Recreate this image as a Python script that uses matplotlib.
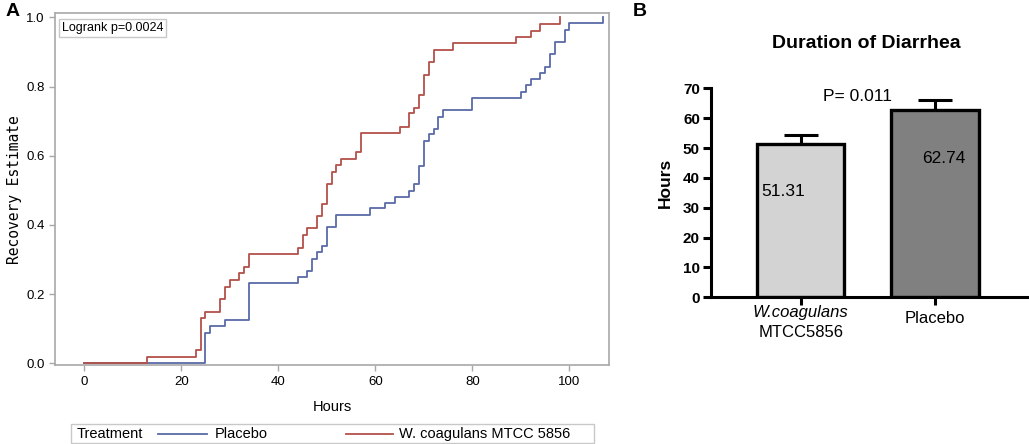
import matplotlib
matplotlib.use("Agg")
import matplotlib.pyplot as plt
from matplotlib.patches import Rectangle
from matplotlib.lines import Line2D

# Kaplan-Meier style recovery estimates
placebo_hours = [0, 25, 26, 29, 34, 44, 46, 47, 48, 49, 50, 52, 59, 62, 64, 67, 68,
                 69, 70, 71, 72, 73, 74, 80, 90, 91, 92, 94, 95, 96, 97, 99, 100, 107]
placebo_est = [0, 0.088, 0.108, 0.125, 0.233, 0.250, 0.268, 0.303, 0.321, 0.340, 0.395,
               0.429, 0.448, 0.464, 0.482, 0.499, 0.518, 0.570, 0.643, 0.662, 0.677,
               0.713, 0.732, 0.768, 0.785, 0.804, 0.822, 0.840, 0.857, 0.893, 0.928,
               0.963, 0.983, 1.0]
wc_hours = [0, 13, 23, 24, 25, 28, 29, 30, 32, 33, 34, 44, 45, 46, 48, 49, 50, 51, 52,
            53, 56, 57, 65, 67, 68, 69, 70, 71, 72, 76, 89, 92, 94, 98]
wc_est = [0, 0.019, 0.038, 0.130, 0.149, 0.186, 0.221, 0.241, 0.260, 0.279, 0.316,
          0.334, 0.371, 0.390, 0.426, 0.462, 0.518, 0.554, 0.573, 0.592, 0.612, 0.666,
          0.684, 0.723, 0.739, 0.777, 0.833, 0.870, 0.907, 0.925, 0.944, 0.961, 0.981,
          1.0]

# panel B bars
groups = ["W.coagulans", "Placebo"]
mean_hours = [51.31, 62.74]
err_hours = [2.9, 3.3]

blue = "#5b6aa8"
red = "#b4504a"
grey = "#a8a8a8"

plt.rcParams["font.family"] = ["Liberation Sans", "DejaVu Sans"]

fig = plt.figure(figsize=(10.29, 4.44), dpi=100)

# ---- panel A ----
axA = fig.add_axes([0.0535, 0.177, 0.5385, 0.794])
axA.step(placebo_hours, placebo_est, where="post", color=blue, lw=1.3)
axA.step(wc_hours, wc_est, where="post", color=red, lw=1.3)
axA.set_xlim(-6, 108.2)
axA.set_ylim(-0.006, 1.013)
axA.set_xticks([0, 20, 40, 60, 80, 100])
axA.set_yticks([0, 0.2, 0.4, 0.6, 0.8, 1.0])
axA.set_yticklabels(["0.0", "0.2", "0.4", "0.6", "0.8", "1.0"])
for s in axA.spines.values():
    s.set_color(grey)
    s.set_linewidth(1.2)
axA.tick_params(colors=grey, labelcolor="black", labelsize=9.5, length=4, width=1)
axA.set_xlabel("Hours", fontsize=10.5, labelpad=9)
axA.set_ylabel("Recovery Estimate", fontsize=10.5, family="DejaVu Sans Mono", labelpad=3)
axA.text(0.012, 0.975, "Logrank p=0.0024", transform=axA.transAxes, fontsize=9,
         va="top", ha="left",
         bbox=dict(boxstyle="square,pad=0.25", fc="white", ec="#c8c8c8", lw=1))

# legend strip under panel A
fig.patches.append(Rectangle((71 / 1029, 1 - 442.5 / 444), (594 - 71) / 1029, 18.5 / 444,
                             transform=fig.transFigure, fc="white", ec="#c8c8c8", lw=1))
ly = 1 - 433.5 / 444
fig.text(77 / 1029, ly, "Treatment", fontsize=10.5, va="center", ha="left")
fig.lines.append(Line2D([158 / 1029, 207 / 1029], [ly, ly], transform=fig.transFigure,
                        color=blue, lw=1.3))
fig.text(215 / 1029, ly, "Placebo", fontsize=10.5, va="center", ha="left")
fig.lines.append(Line2D([346 / 1029, 393 / 1029], [ly, ly], transform=fig.transFigure,
                        color=red, lw=1.3))
fig.text(399 / 1029, ly, "W. coagulans MTCC 5856", fontsize=10.5, va="center", ha="left")

fig.text(6 / 1029, 1 - 11 / 444, "A", fontsize=14, fontweight="bold", va="center")

# ---- panel B ----
axB = fig.add_axes([0.691, 0.3304, 0.3068, 0.4706])
x = [0, 1]
axB.errorbar(x, mean_hours, yerr=[[0, 0], err_hours], fmt="none", ecolor="black",
             elinewidth=2.2, capsize=12, capthick=2.2, zorder=1)
axB.bar(x, mean_hours, width=0.65, color=["#d3d3d3", "#808080"], edgecolor="black",
        linewidth=2.4, zorder=2)
axB.set_xlim(-0.666, 1.68)
axB.set_ylim(0, 70)
axB.set_yticks(range(0, 71, 10))
axB.set_xticks(x)
axB.set_xticklabels(["", groups[1]], fontsize=12)
axB.spines["top"].set_visible(False)
axB.spines["right"].set_visible(False)
axB.spines["left"].set_linewidth(2.2)
axB.spines["bottom"].set_linewidth(2.2)
axB.tick_params(axis="y", width=2.2, length=6, labelsize=11, pad=2)
axB.tick_params(axis="x", width=2.2, length=6, pad=4)
for lab in axB.get_yticklabels():
    lab.set_fontweight("bold")
axB.set_ylabel("Hours", fontsize=12.5, fontweight="bold")
axB.yaxis.set_label_coords(-0.12, 0.547)
xt = axB.get_xaxis_transform()
axB.text(0, -0.075, groups[0], transform=xt, fontsize=12, style="italic",
         ha="center", va="center")
axB.text(0, -0.17, "MTCC5856", transform=xt, fontsize=12, ha="center", va="center")

axB.text(-0.13, 35.4, f"{mean_hours[0]:.2f}", fontsize=12.5, ha="center", va="center")
axB.text(1.065, 46.6, f"{mean_hours[1]:.2f}", fontsize=12.5, ha="center", va="center")
axB.text(0.42, 67.3, "P= 0.011", fontsize=12.5, ha="center", va="center")

fig.text(866.7 / 1029, 1 - 43.3 / 444, "Duration of Diarrhea", fontsize=14,
         fontweight="bold", ha="center", va="center")
fig.text(633 / 1029, 1 - 11 / 444, "B", fontsize=14, fontweight="bold", va="center")

fig.savefig("out.png", dpi=100)
